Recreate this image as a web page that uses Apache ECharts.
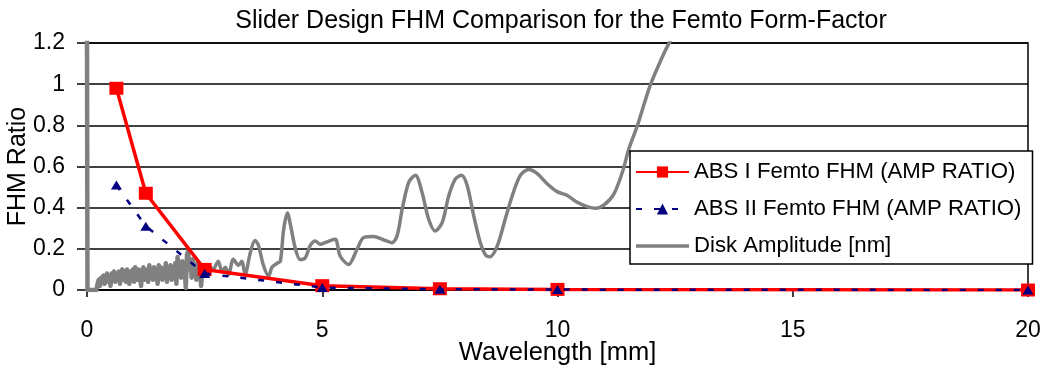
<!DOCTYPE html>
<html>
<head>
<meta charset="utf-8">
<script src="https://cdn.jsdelivr.net/npm/echarts@6/dist/echarts.min.js"></script>
<style>
  html, body { margin: 0; padding: 0; background: #fff; }
  #chart { width: 1047px; height: 369px; }
</style>
</head>
<body>
<div id="chart"></div>
<script>
// FHM amplitude ratio of the two slider designs, per wavelength (mm)
const fhmWavelength = [0.625, 1.25, 2.5, 5, 7.5, 10, 20];
const absIRatio  = [0.98, 0.47, 0.10, 0.021, 0.006, 0.003, 0.0];
const absIIRatio = [0.51, 0.31, 0.08, 0.012, 0.004, 0.002, 0.0];

// Disk amplitude spectrum: [wavelength (mm), amplitude (nm)]
const diskSpectrum = [
  [0, 1.22], [0.01, 0.0], [0.15, 0.0],
  [0.200, 0.00], [0.225, 0.03], [0.250, 0.05], [0.275, 0.02], [0.300, 0.06],
  [0.325, 0.04], [0.350, 0.07], [0.375, 0.03], [0.400, 0.06], [0.425, 0.08],
  [0.450, 0.04], [0.475, 0.07], [0.500, 0.02], [0.525, 0.08], [0.550, 0.06],
  [0.575, 0.09], [0.600, 0.04], [0.625, 0.07], [0.650, 0.05], [0.675, 0.09],
  [0.700, 0.03], [0.725, 0.08], [0.750, 0.10], [0.775, 0.05], [0.800, 0.09],
  [0.825, 0.04], [0.850, 0.10], [0.875, 0.07], [0.900, 0.03], [0.925, 0.09],
  [0.950, 0.06], [0.975, 0.10], [1.000, 0.04], [1.025, 0.11], [1.050, 0.08],
  [1.075, 0.05], [1.100, 0.10], [1.125, 0.07], [1.150, 0.02], [1.175, 0.09],
  [1.200, 0.11], [1.225, 0.05], [1.250, 0.10], [1.275, 0.07], [1.300, 0.04],
  [1.325, 0.12], [1.350, 0.08], [1.375, 0.10], [1.400, 0.05], [1.425, 0.11],
  [1.450, 0.07], [1.475, 0.09], [1.500, 0.03], [1.525, 0.12], [1.550, 0.08],
  [1.575, 0.11], [1.600, 0.05], [1.625, 0.10], [1.650, 0.07], [1.675, 0.13],
  [1.700, 0.04], [1.725, 0.11], [1.750, 0.08], [1.775, 0.12], [1.800, 0.05],
  [1.825, 0.10], [1.850, 0.08], [1.875, 0.13], [1.900, 0.03], [1.925, 0.16],
  [1.950, 0.08], [1.975, 0.12], [2.000, 0.06], [2.025, 0.14], [2.050, 0.09],
  [2.075, 0.11], [2.100, 0.01], [2.125, 0.17], [2.150, 0.19], [2.175, 0.10],
  [2.200, 0.14], [2.225, 0.06], [2.250, 0.15], [2.275, 0.09], [2.300, 0.12],
  [2.325, 0.05], [2.350, 0.13], [2.375, 0.09], [2.400, 0.11], [2.425, 0.02],
  [2.450, 0.10], [2.475, 0.07], [2.500, 0.12], [2.525, 0.08], [2.550, 0.11],
  [2.575, 0.07], [2.600, 0.12],
  [2.68, 0.10], [2.79, 0.14], [2.87, 0.09], [2.94, 0.11], [3.01, 0.075],
  [3.11, 0.15], [3.22, 0.12], [3.29, 0.14], [3.36, 0.075], [3.47, 0.18],
  [3.57, 0.24], [3.64, 0.22], [3.75, 0.12], [3.86, 0.067], [3.93, 0.11],
  [4.04, 0.13], [4.11, 0.14], [4.18, 0.295], [4.26, 0.374], [4.33, 0.31],
  [4.43, 0.20], [4.53, 0.148], [4.64, 0.157], [4.74, 0.214], [4.85, 0.238],
  [4.96, 0.222], [5.06, 0.23], [5.17, 0.24], [5.28, 0.246], [5.38, 0.165],
  [5.56, 0.124], [5.74, 0.198], [5.88, 0.255], [6.09, 0.26], [6.31, 0.243],
  [6.48, 0.23], [6.59, 0.263], [6.70, 0.394], [6.84, 0.524], [6.98, 0.557],
  [7.12, 0.475], [7.26, 0.345], [7.40, 0.287], [7.55, 0.328], [7.69, 0.459],
  [7.83, 0.54], [7.96, 0.557], [8.08, 0.508], [8.22, 0.36], [8.36, 0.23],
  [8.49, 0.165], [8.57, 0.162], [8.72, 0.214], [8.89, 0.345], [9.04, 0.459],
  [9.21, 0.557], [9.39, 0.585], [9.57, 0.565], [9.78, 0.516], [9.99, 0.478],
  [10.21, 0.459], [10.42, 0.426], [10.63, 0.405], [10.81, 0.397], [10.99, 0.413],
  [11.20, 0.467], [11.38, 0.573], [11.52, 0.688], [11.70, 0.80], [11.85, 0.91],
  [11.98, 1.0], [12.19, 1.113], [12.40, 1.21], [12.55, 1.24], [12.80, 1.30],
  [13.10, 1.28], [13.50, 1.22], [13.80, 1.23], [14.10, 1.30]
];

// Short-wavelength end of the spectrum is noisy and drawn with straight
// segments; the longer wavelengths are drawn as a smoothed curve.
const NOISE_END = 2.6;
const diskNoisy = diskSpectrum.filter(p => p[0] <= NOISE_END);
const diskSmooth = diskSpectrum.filter(p => p[0] >= NOISE_END);

// Axis ticks
const xTicks = [0, 5, 10, 15, 20];
const yTicks = [0, 0.2, 0.4, 0.6, 0.8, 1, 1.2];

const seriesNames = [
  'ABS I Femto FHM (AMP RATIO)',
  'ABS II Femto FHM (AMP RATIO)',
  'Disk Amplitude [nm]'
];

const FONT = "'Liberation Sans', Arial, sans-serif";

const zip = (xs, ys) => xs.map((x, i) => [x, ys[i]]);

const diskStyle = {
  type: 'line',
  name: seriesNames[2],
  symbol: 'none',
  clip: true,
  z: 2,
  itemStyle: { color: '#808080' },
  emphasis: { disabled: true }
};

const chart = echarts.init(document.getElementById('chart'), null, { renderer: 'canvas' });

chart.setOption({
  animation: false,
  backgroundColor: '#ffffff',
  title: {
    text: 'Slider Design FHM Comparison for the Femto Form-Factor',
    left: 556,
    textAlign: 'center',
    top: 4,
    textStyle: { fontFamily: FONT, fontSize: 25, fontWeight: 'normal', color: '#000' }
  },
  legend: {
    orient: 'vertical',
    left: 630,
    top: 151,
    padding: [10, 11, 7, 5],
    itemGap: 15,
    itemWidth: 53,
    itemHeight: 14,
    backgroundColor: '#ffffff',
    borderColor: '#000000',
    borderWidth: 1.5,
    selectedMode: false,
    textStyle: { fontFamily: FONT, fontSize: 22.2, color: '#000' },
    data: [
      { name: seriesNames[0] },
      { name: seriesNames[1] },
      {
        name: seriesNames[2],
        icon: 'path://M0,0H53V0.01H0Z M0,5.25H53V8.75H0Z M0,13.99H53V14H0Z',
        itemStyle: { borderWidth: 0 }
      }
    ]
  },
  grid: {
    left: 87, right: 19, top: 43, bottom: 79,
    show: true,
    borderColor: '#000',
    borderWidth: 1.5,
    backgroundColor: 'transparent',
    containLabel: false,
    outerBoundsMode: 'none'
  },
  xAxis: {
    type: 'value',
    min: xTicks[0],
    max: xTicks[xTicks.length - 1],
    interval: xTicks[1] - xTicks[0],
    name: 'Wavelength [mm]',
    nameLocation: 'middle',
    nameGap: 50,
    nameMoveOverlap: false,
    nameTextStyle: { fontFamily: FONT, fontSize: 25.5, color: '#000' },
    axisLine: { show: true, onZero: false, lineStyle: { color: '#000', width: 1.5 } },
    axisTick: { show: true, inside: false, length: 7, lineStyle: { color: '#000', width: 1.5 } },
    axisLabel: { show: true, margin: 29, fontFamily: FONT, fontSize: 23, color: '#000',
                 showMinLabel: true, showMaxLabel: true, hideOverlap: false },
    splitLine: { show: false }
  },
  yAxis: {
    type: 'value',
    min: yTicks[0],
    max: yTicks[yTicks.length - 1],
    interval: yTicks[1] - yTicks[0],
    name: 'FHM Ratio',
    nameLocation: 'middle',
    nameGap: 56,
    nameMoveOverlap: false,
    nameTextStyle: { fontFamily: FONT, fontSize: 25, color: '#000' },
    axisLine: { show: true, lineStyle: { color: '#000', width: 1.5 } },
    axisTick: { show: true, inside: false, length: 10, lineStyle: { color: '#000', width: 1.5 } },
    axisLabel: { show: true, margin: 22, fontFamily: FONT, fontSize: 23, color: '#000',
                 showMinLabel: true, showMaxLabel: true, hideOverlap: false },
    splitLine: { show: true, lineStyle: { color: '#000', width: 1.5 } }
  },
  series: [
    Object.assign({}, diskStyle, {
      data: diskNoisy, smooth: false,
      lineStyle: { color: '#808080', width: 4.5, join: 'round' }
    }),
    Object.assign({}, diskStyle, {
      data: diskSmooth, smooth: 0.3,
      lineStyle: { color: '#808080', width: 3.5 }
    }),
    {
      name: seriesNames[0],
      type: 'line',
      data: zip(fhmWavelength, absIRatio),
      symbol: 'rect',
      symbolSize: [14, 13],
      z: 3,
      lineStyle: { color: '#ff0000', width: 3.5 },
      itemStyle: { color: '#ff0000' },
      emphasis: { disabled: true }
    },
    {
      name: seriesNames[1],
      type: 'line',
      data: zip(fhmWavelength, absIIRatio),
      symbol: 'triangle',
      symbolSize: [11, 9],
      z: 4,
      lineStyle: { color: '#000080', width: 2.5, type: [6, 12] },
      itemStyle: { color: '#000080' },
      emphasis: { disabled: true }
    }
  ]
});
</script>
</body>
</html>
